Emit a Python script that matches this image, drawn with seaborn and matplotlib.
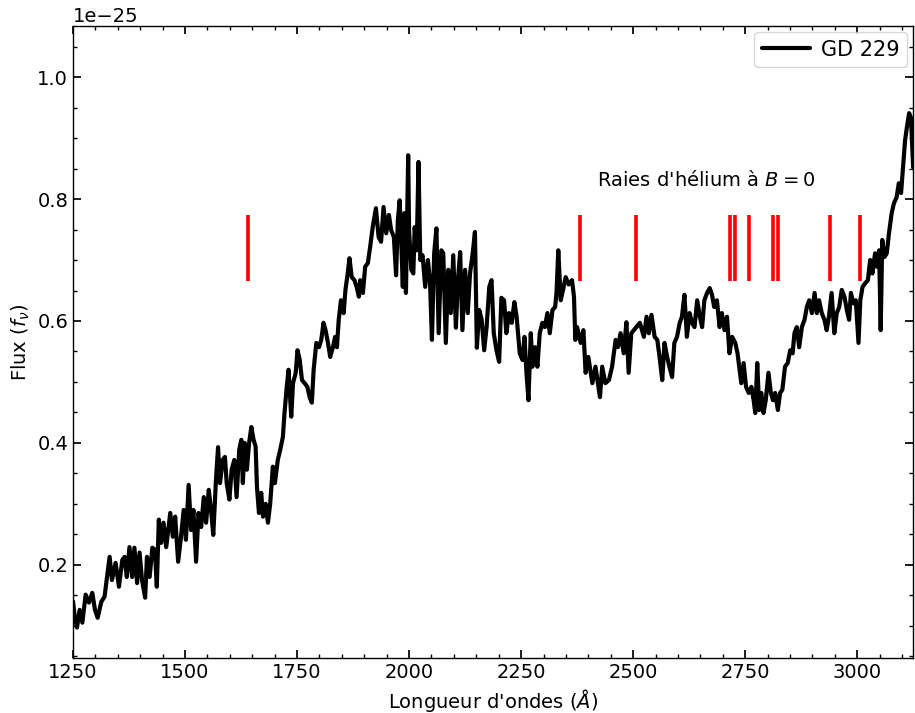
import numpy as np
import pandas as pd
import matplotlib
matplotlib.use("Agg")
import matplotlib.pyplot as plt
import seaborn as sns

# Wavelength (Angstrom) and flux (in units of 1e-25)
wavelength = [
    1250, 1253.7, 1258.9, 1264.8, 1270.8, 1278.2, 1285.6, 1293, 1299, 1305, 1313, 1320.5,
    1325.7, 1331.7, 1336.9, 1345, 1352.5, 1360, 1365, 1370, 1376, 1382, 1387, 1393,
    1398.5, 1404, 1411, 1415, 1421, 1427, 1432.6, 1437, 1441.5, 1446.7, 1452, 1458,
    1467, 1472.7, 1478, 1484.6, 1491, 1497, 1502, 1508, 1513.5, 1518.7, 1524.7, 1530,
    1536, 1541.8, 1547, 1553, 1558, 1563, 1569, 1573.7, 1578, 1584, 1589, 1593,
    1599, 1604, 1610, 1615, 1621, 1625.6, 1629, 1633, 1638, 1643, 1648, 1653,
    1657.5, 1660.5, 1665, 1670, 1674, 1680, 1685, 1690, 1696, 1700.6, 1707, 1712.5,
    1718.4, 1722, 1727, 1731, 1737, 1741, 1747, 1751, 1756, 1761, 1767, 1773,
    1778, 1783, 1787, 1793, 1799, 1804, 1809, 1813.5, 1819, 1824, 1830, 1835,
    1839, 1843, 1848, 1854, 1858, 1863, 1867, 1872, 1878, 1883, 1888, 1891,
    1897, 1902, 1908, 1913, 1919, 1926, 1932, 1937.5, 1943, 1949, 1955, 1960,
    1966, 1971, 1975, 1979, 1983, 1986, 1989.5, 1993, 1998, 2000, 2005, 2009.5,
    2012.5, 2017, 2021, 2025, 2030, 2036, 2042, 2046.6, 2051, 2056, 2061, 2066,
    2072, 2076.3, 2082, 2087.5, 2093, 2098.6, 2104.5, 2109, 2114, 2119, 2125, 2131,
    2136, 2142, 2147, 2151.3, 2156.5, 2162, 2167.6, 2173, 2179, 2184, 2189, 2195,
    2201, 2206, 2212, 2217, 2223, 2229, 2235, 2240, 2247, 2253, 2257.5, 2262,
    2266.4, 2271.6, 2275.3, 2281, 2286.4, 2291.6, 2297.5, 2303, 2308.7, 2314, 2320, 2326,
    2329, 2333, 2338.4, 2343.6, 2349.5, 2356, 2363.6, 2368, 2371, 2375, 2383, 2389,
    2394, 2400, 2409, 2416, 2421, 2426, 2431, 2438, 2446, 2453, 2461, 2466,
    2472, 2479, 2485, 2490, 2496, 2505, 2515, 2524, 2530, 2535, 2541, 2548,
    2554, 2559, 2565, 2570, 2576, 2581, 2587, 2592, 2598, 2604, 2609, 2614.5,
    2620, 2626, 2631.5, 2637, 2643, 2649, 2654, 2659, 2665, 2671, 2676, 2681,
    2687, 2693, 2698, 2704, 2709.5, 2715, 2721, 2728, 2733, 2741.4, 2746.6, 2752,
    2758, 2764, 2769, 2772.6, 2777, 2781.5, 2786, 2791, 2796, 2802, 2807.5, 2812,
    2817, 2823, 2828, 2833, 2839, 2845, 2850.6, 2856, 2860, 2865.4, 2870.6, 2876.6,
    2882.5, 2887.7, 2893, 2899, 2905, 2910, 2915, 2921, 2927, 2932, 2937, 2943,
    2949, 2954.5, 2960, 2965.6, 2971.6, 2977, 2982, 2986, 2991.6, 2997, 3003, 3007,
    3012, 3018, 3024, 3029, 3034, 3040, 3044, 3049, 3052.5, 3056, 3061, 3066,
    3071, 3077, 3082, 3088, 3093, 3098, 3102, 3107, 3111, 3116, 3120, 3125,
]
flux = [
    0.140, 0.115, 0.097, 0.126, 0.105, 0.151, 0.138, 0.154, 0.126, 0.113, 0.139, 0.148,
    0.179, 0.213, 0.175, 0.203, 0.164, 0.208, 0.213, 0.180, 0.229, 0.180, 0.228, 0.170,
    0.220, 0.175, 0.146, 0.213, 0.180, 0.228, 0.225, 0.164, 0.274, 0.236, 0.269, 0.229,
    0.285, 0.246, 0.279, 0.205, 0.246, 0.290, 0.241, 0.331, 0.257, 0.290, 0.205, 0.285,
    0.262, 0.311, 0.269, 0.323, 0.290, 0.249, 0.339, 0.393, 0.334, 0.372, 0.377, 0.334,
    0.307, 0.356, 0.372, 0.311, 0.389, 0.405, 0.334, 0.400, 0.356, 0.400, 0.426, 0.405,
    0.394, 0.328, 0.285, 0.318, 0.279, 0.300, 0.269, 0.300, 0.361, 0.334, 0.372, 0.389,
    0.410, 0.449, 0.492, 0.520, 0.443, 0.498, 0.515, 0.552, 0.536, 0.503, 0.498, 0.492,
    0.475, 0.466, 0.520, 0.564, 0.557, 0.569, 0.597, 0.585, 0.564, 0.541, 0.557, 0.574,
    0.557, 0.602, 0.634, 0.613, 0.651, 0.678, 0.703, 0.672, 0.667, 0.656, 0.640, 0.667,
    0.646, 0.689, 0.695, 0.721, 0.755, 0.785, 0.738, 0.730, 0.787, 0.744, 0.774, 0.749,
    0.738, 0.675, 0.766, 0.798, 0.721, 0.656, 0.777, 0.646, 0.872, 0.749, 0.684, 0.678,
    0.754, 0.716, 0.861, 0.700, 0.708, 0.656, 0.700, 0.667, 0.569, 0.711, 0.752, 0.580,
    0.716, 0.711, 0.564, 0.684, 0.613, 0.708, 0.589, 0.667, 0.713, 0.585, 0.684, 0.613,
    0.678, 0.711, 0.746, 0.556, 0.618, 0.602, 0.552, 0.590, 0.656, 0.667, 0.580, 0.552,
    0.533, 0.638, 0.634, 0.580, 0.613, 0.597, 0.631, 0.607, 0.547, 0.536, 0.574, 0.515,
    0.470, 0.580, 0.525, 0.557, 0.525, 0.580, 0.597, 0.590, 0.613, 0.580, 0.618, 0.623,
    0.646, 0.716, 0.634, 0.651, 0.672, 0.660, 0.667, 0.640, 0.569, 0.590, 0.564, 0.585,
    0.515, 0.541, 0.498, 0.525, 0.500, 0.475, 0.525, 0.498, 0.503, 0.525, 0.569, 0.557,
    0.580, 0.547, 0.598, 0.515, 0.580, 0.588, 0.597, 0.574, 0.607, 0.580, 0.610, 0.574,
    0.569, 0.541, 0.503, 0.564, 0.541, 0.525, 0.508, 0.564, 0.574, 0.597, 0.607, 0.643,
    0.574, 0.613, 0.597, 0.590, 0.634, 0.607, 0.590, 0.634, 0.646, 0.654, 0.643, 0.623,
    0.634, 0.590, 0.613, 0.585, 0.607, 0.547, 0.574, 0.564, 0.547, 0.498, 0.531, 0.492,
    0.482, 0.492, 0.470, 0.449, 0.531, 0.454, 0.482, 0.449, 0.470, 0.515, 0.482, 0.470,
    0.482, 0.454, 0.482, 0.487, 0.525, 0.531, 0.552, 0.547, 0.580, 0.590, 0.557, 0.590,
    0.602, 0.623, 0.634, 0.613, 0.646, 0.613, 0.634, 0.613, 0.602, 0.585, 0.607, 0.646,
    0.580, 0.613, 0.623, 0.651, 0.640, 0.618, 0.602, 0.646, 0.629, 0.634, 0.564, 0.634,
    0.656, 0.662, 0.667, 0.700, 0.678, 0.711, 0.689, 0.716, 0.585, 0.733, 0.705, 0.711,
    0.744, 0.777, 0.793, 0.803, 0.826, 0.810, 0.848, 0.897, 0.918, 0.941, 0.934, 0.852,
]

# Helium line positions at B = 0 (Angstrom)
helium_lines = [1640, 2381, 2507, 2717, 2727, 2758, 2813, 2824, 2939, 3007]
helium_ymin = 0.666
helium_ymax = 0.774

star_name = "GD 229"
annotation = r"Raies d'hélium à $B=0$"

scale = 1e-25
df = pd.DataFrame({"wavelength": wavelength,
                   "flux": np.array(flux) * scale,
                   "star": star_name})

sns.set_theme(style="ticks")
plt.rcParams["font.family"] = ["DejaVu Sans"]
plt.rcParams.update({
    "text.color": "black", "axes.labelcolor": "black",
    "xtick.color": "black", "ytick.color": "black",
    "xtick.direction": "in", "ytick.direction": "in",
    "xtick.top": True, "ytick.right": True,
    "xtick.labelsize": 14, "ytick.labelsize": 14,
    "axes.labelsize": 14,
    "xtick.major.size": 6, "ytick.major.size": 6,
    "xtick.minor.size": 3, "ytick.minor.size": 3,
    "axes.edgecolor": "black", "axes.linewidth": 1.0,
})

fig = plt.figure(figsize=(9.15, 7.13), dpi=100)
ax = fig.add_axes([0.0798, 0.0771, 0.9182, 0.8864])

sns.lineplot(data=df, x="wavelength", y="flux", hue="star", palette=["black"],
             estimator=None, sort=False, linewidth=3, ax=ax)

ax.vlines(helium_lines, helium_ymin * scale, helium_ymax * scale,
          colors="red", linewidth=2.6, zorder=3)
ax.text(2420, 0.822 * scale, annotation, fontsize=14, va="baseline", ha="left")

ax.set_xlim(1250, 3125)
ax.set_ylim(0.047 * scale, 1.084 * scale)
ax.minorticks_on()
ax.set_xlabel("Longueur d'ondes ($Å$)")
ax.set_ylabel(r"Flux ($f_\nu$)")
ax.yaxis.get_offset_text().set_fontsize(14)

leg = ax.legend(loc="upper right", fontsize=15, frameon=True,
                handlelength=2.3, handletextpad=0.55, borderaxespad=0.3,
                borderpad=0.35)
leg.get_frame().set_edgecolor("#cccccc")

fig.savefig("out.png", dpi=100)
